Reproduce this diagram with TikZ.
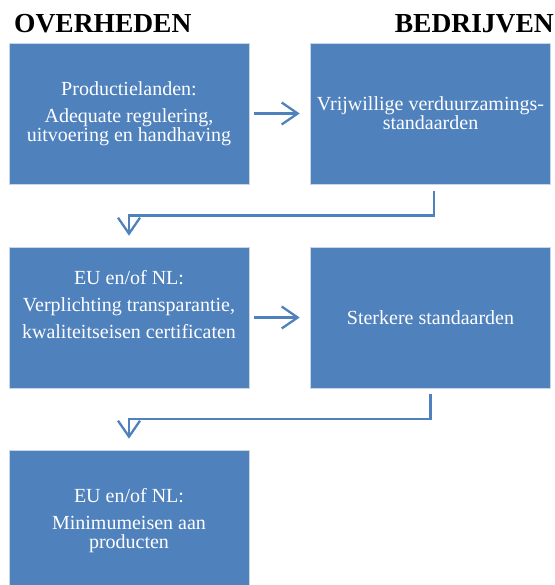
\documentclass[tikz,border=0pt]{standalone}
\usepackage{fontspec}
\setmainfont{Liberation Serif}
\usepackage{tikz}
\usetikzlibrary{arrows.meta,calc}

\definecolor{boxblue}{HTML}{4F81BD}
\definecolor{boxedge}{HTML}{C9D6E8}

\begin{document}
\begin{tikzpicture}[x=1pt, y=-1pt,
  box/.style={rectangle, draw=boxedge, line width=0.6pt, fill=boxblue,
    minimum width=240pt, minimum height=141pt, inner sep=0pt, align=center,
    text=white, font=\fontsize{20}{19}\selectfont},
  arr/.style={-{Straight Barb[length=16pt,width=22pt]}, line width=2.3pt, draw=boxblue},
  title/.style={inner sep=0pt, font=\fontsize{27.5}{30}\selectfont\bfseries}
]
\useasboundingbox (0,0) rectangle (554,585);

\node[title, anchor=base west] (overheden) at (14,33) {OVERHEDEN};
\node[title, anchor=base east] (bedrijven) at (554,33) {BEDRIJVEN};

\node[box] (prod) at (129,113.5) {Productielanden:\\[8pt]Adequate regulering,\\uitvoering en handhaving};
\node[box] (vrijw) at (430.5,113.5) {Vrijwillige verduurzamings-\\standaarden};
\node[box] (eutransp) at (129,317.5) {EU en/of NL:\\[8pt]Verplichting transparantie,\\[8pt]kwaliteitseisen certificaten\\[8pt]\mbox{}};
\node[box] (sterk) at (430.5,317.5) {Sterkere standaarden};
\node[box] (eumin) at (129,520.5) {EU en/of NL:\\[8pt]Minimumeisen aan\\producten};

\draw[arr] ([xshift=5pt]prod.east) -- ([xshift=-10.5pt]vrijw.west);
\draw[arr] ([xshift=3.5pt,yshift=-7pt]vrijw.south) |- ($(prod.south)!0.5!(eutransp.north)$)
  -- ([yshift=11pt]eutransp.north);
\draw[arr] ([xshift=5pt]eutransp.east) -- ([xshift=-10.5pt]sterk.west);
\draw[arr] ([yshift=-6pt]sterk.south) |- ($(eutransp.south)!0.5!(eumin.north)$)
  -- ([yshift=11pt]eumin.north);
\end{tikzpicture}
\end{document}
